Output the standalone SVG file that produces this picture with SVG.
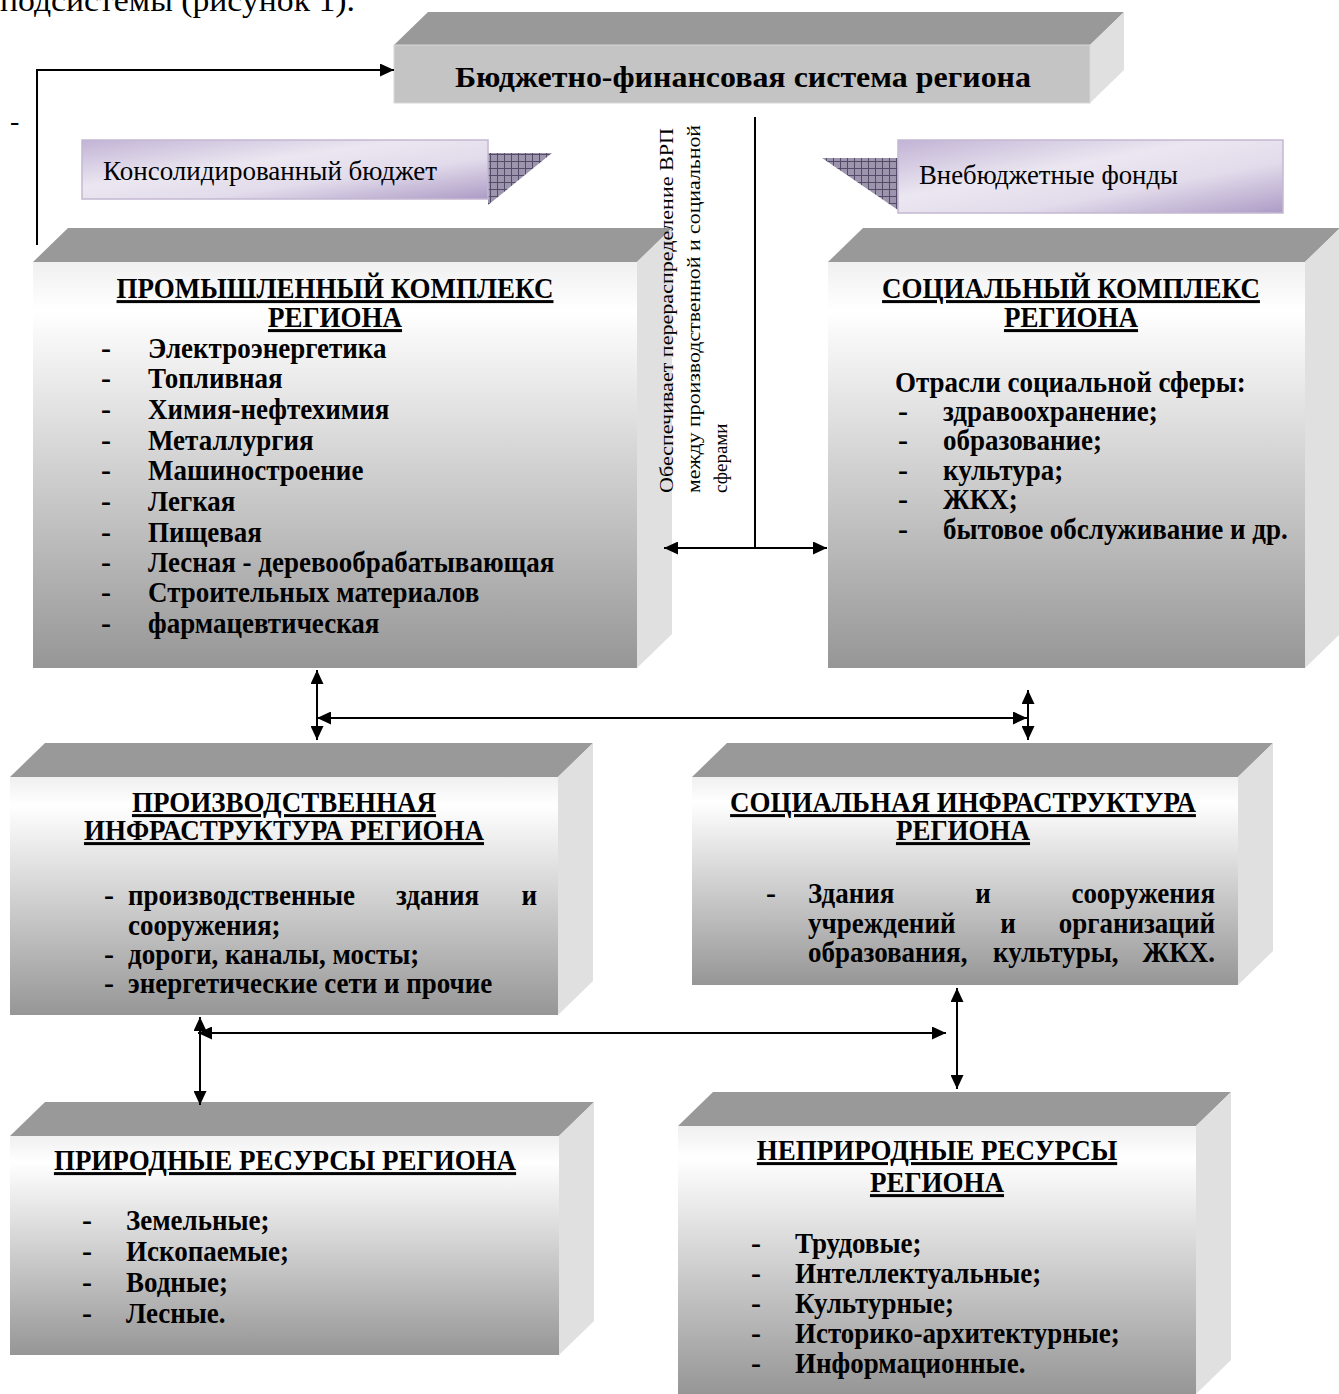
<svg xmlns="http://www.w3.org/2000/svg" width="1339" height="1394" viewBox="0 0 1339 1394">
<defs>
<style>
.b{font-family:'Liberation Serif','Times New Roman',serif;font-weight:bold;font-size:30px;fill:#000}
.t{font-family:'Liberation Serif','Times New Roman',serif;font-weight:bold;font-size:30px;fill:#000;text-anchor:middle;text-decoration:underline}
.r{font-family:'Liberation Serif','Times New Roman',serif;font-weight:normal;fill:#000}
.top{fill:#999999}
.side{fill:#e0e0e0}
.front{fill:url(#gFront)}
.lav{fill:url(#gLav);stroke:#c3b8d2;stroke-width:1.5}
.hatch{fill:url(#pHatch)}
.ln{fill:none;stroke:#000;stroke-width:2}
.ar{marker-start:url(#ah);marker-end:url(#ah)}
</style>
<linearGradient id="gFront" x1="0" y1="0" x2="0" y2="1">
<stop offset="0" stop-color="#f0f0f0"/>
<stop offset="0.12" stop-color="#ffffff"/>
<stop offset="1" stop-color="#969696"/>
</linearGradient>
<linearGradient id="gLav" x1="0" y1="0" x2="1" y2="1">
<stop offset="0" stop-color="#c2b3d5"/>
<stop offset="0.4" stop-color="#ebe7f1"/>
<stop offset="0.65" stop-color="#e2dbeb"/>
<stop offset="1" stop-color="#ac9bc5"/>
</linearGradient>
<pattern id="pHatch" width="7" height="7" patternUnits="userSpaceOnUse">
<rect width="7" height="7" fill="#9d95ad"/>
<path d="M0,0.5 H7 M0.5,0 V7" stroke="#544b68" stroke-width="1"/>
</pattern>
<marker id="ah" viewBox="0 0 14 13" refX="14" refY="6.5" markerWidth="14" markerHeight="13" markerUnits="userSpaceOnUse" orient="auto-start-reverse">
<path d="M0,0 L14,6.5 L0,13 z" fill="#000"/>
</marker>
</defs>
<rect width="1339" height="1394" fill="#ffffff"/>

<text class="r" x="0" y="11" font-size="32" textLength="355" lengthAdjust="spacingAndGlyphs">подсистемы (рисунок 1).</text>
<text class="r" x="10" y="130" font-size="28">-</text>

<g id="budget-system">
<polygon class="top" points="394,45 428,12 1124,12 1090,45"/>
<polygon class="side" points="1090,45 1124,12 1124,70 1090,103"/>
<rect x="394" y="45" width="696" height="58" fill="#c4c4c4" stroke="#d8d8d8" stroke-width="1"/>
<text class="b" x="455" y="87" font-size="33" textLength="576" lengthAdjust="spacingAndGlyphs">Бюджетно-финансовая система региона</text>
</g>

<g id="consolidated">
<polygon class="hatch" points="488,153 552,153 488,205"/>
<rect class="lav" x="82" y="140" width="406" height="59"/>
<text class="r" x="103" y="180" font-size="28" textLength="334" lengthAdjust="spacingAndGlyphs">Консолидированный бюджет</text>
</g>

<g id="offbudget">
<polygon class="hatch" points="822,158 898,158 898,210"/>
<rect class="lav" x="898" y="140" width="385" height="73"/>
<text class="r" x="919" y="184" font-size="28" textLength="259" lengthAdjust="spacingAndGlyphs">Внебюджетные фонды</text>
</g>

<g id="industrial">
<polygon class="top" points="33,262 68,228 672,228 637,262"/>
<polygon class="side" points="637,262 672,228 672,634 637,668"/>
<rect class="front" x="33" y="262" width="604" height="406"/>
<text class="t" transform="translate(335,298) scale(.9,1)">ПРОМЫШЛЕННЫЙ КОМПЛЕКС</text>
<text class="t" transform="translate(335,327) scale(.9,1)">РЕГИОНА</text>
<text class="b" x="101" y="358">-</text><text class="b" transform="translate(148,358) scale(.9,1)">Электроэнергетика</text>
<text class="b" x="101" y="388">-</text><text class="b" transform="translate(148,388) scale(.9,1)">Топливная</text>
<text class="b" x="101" y="419">-</text><text class="b" transform="translate(148,419) scale(.9,1)">Химия-нефтехимия</text>
<text class="b" x="101" y="450">-</text><text class="b" transform="translate(148,450) scale(.9,1)">Металлургия</text>
<text class="b" x="101" y="480">-</text><text class="b" transform="translate(148,480) scale(.9,1)">Машиностроение</text>
<text class="b" x="101" y="511">-</text><text class="b" transform="translate(148,511) scale(.9,1)">Легкая</text>
<text class="b" x="101" y="542">-</text><text class="b" transform="translate(148,542) scale(.9,1)">Пищевая</text>
<text class="b" x="101" y="572">-</text><text class="b" transform="translate(148,572) scale(.9,1)">Лесная - деревообрабатывающая</text>
<text class="b" x="101" y="602">-</text><text class="b" transform="translate(148,602) scale(.9,1)">Строительных материалов</text>
<text class="b" x="101" y="633">-</text><text class="b" transform="translate(148,633) scale(.9,1)">фармацевтическая</text>
</g>

<g id="social">
<polygon class="top" points="828,262 863,228 1340,228 1305,262"/>
<polygon class="side" points="1305,262 1340,228 1340,634 1305,668"/>
<rect class="front" x="828" y="262" width="477" height="406"/>
<text class="t" transform="translate(1071,298) scale(.9,1)">СОЦИАЛЬНЫЙ КОМПЛЕКС</text>
<text class="t" transform="translate(1071,327) scale(.9,1)">РЕГИОНА</text>
<text class="b" transform="translate(895,392) scale(.9,1)">Отрасли социальной сферы:</text>
<text class="b" x="898" y="421">-</text><text class="b" transform="translate(943,421) scale(.9,1)">здравоохранение;</text>
<text class="b" x="898" y="450">-</text><text class="b" transform="translate(943,450) scale(.9,1)">образование;</text>
<text class="b" x="898" y="480">-</text><text class="b" transform="translate(943,480) scale(.9,1)">культура;</text>
<text class="b" x="898" y="509">-</text><text class="b" transform="translate(943,509) scale(.9,1)">ЖКХ;</text>
<text class="b" x="898" y="539">-</text><text class="b" transform="translate(943,539) scale(.9,1)">бытовое обслуживание и др.</text>
</g>

<g id="prod-infra">
<polygon class="top" points="10,777 45,743 593,743 558,777"/>
<polygon class="side" points="558,777 593,743 593,981 558,1015"/>
<rect class="front" x="10" y="777" width="548" height="238"/>
<text class="t" transform="translate(284,812) scale(.9,1)">ПРОИЗВОДСТВЕННАЯ</text>
<text class="t" transform="translate(284,840) scale(.9,1)">ИНФРАСТРУКТУРА РЕГИОНА</text>
<text class="b" x="104" y="905">-</text>
<text class="b" transform="translate(128,905) scale(.9,1)">производственные</text>
<text class="b" transform="translate(396,905) scale(.9,1)">здания</text>
<text class="b" text-anchor="end" transform="translate(537,905) scale(.9,1)">и</text>
<text class="b" transform="translate(128,935) scale(.9,1)">сооружения;</text>
<text class="b" x="104" y="964">-</text><text class="b" transform="translate(128,964) scale(.9,1)">дороги, каналы, мосты;</text>
<text class="b" x="104" y="993">-</text><text class="b" transform="translate(128,993) scale(.9,1)">энергетические сети и прочие</text>
</g>

<g id="soc-infra">
<polygon class="top" points="692,777 727,743 1273,743 1238,777"/>
<polygon class="side" points="1238,777 1273,743 1273,951 1238,985"/>
<rect class="front" x="692" y="777" width="546" height="208"/>
<text class="t" transform="translate(963,812) scale(.9,1)">СОЦИАЛЬНАЯ ИНФРАСТРУКТУРА</text>
<text class="t" transform="translate(963,840) scale(.9,1)">РЕГИОНА</text>
<text class="b" x="766" y="903">-</text>
<text class="b" transform="translate(808,903) scale(.9,1)">Здания</text>
<text class="b" text-anchor="middle" transform="translate(983,903) scale(.9,1)">и</text>
<text class="b" text-anchor="end" transform="translate(1215,903) scale(.9,1)">сооружения</text>
<text class="b" transform="translate(808,933) scale(.9,1)">учреждений</text>
<text class="b" text-anchor="middle" transform="translate(1008,933) scale(.9,1)">и</text>
<text class="b" text-anchor="end" transform="translate(1215,933) scale(.9,1)">организаций</text>
<text class="b" transform="translate(808,962) scale(.9,1)">образования,</text>
<text class="b" transform="translate(993,962) scale(.9,1)">культуры,</text>
<text class="b" text-anchor="end" transform="translate(1215,962) scale(.9,1)">ЖКХ.</text>
</g>

<g id="natural">
<polygon class="top" points="10,1136 45,1102 594,1102 559,1136"/>
<polygon class="side" points="559,1136 594,1102 594,1321 559,1355"/>
<rect class="front" x="10" y="1136" width="549" height="219"/>
<text class="t" transform="translate(285,1170) scale(.9,1)">ПРИРОДНЫЕ РЕСУРСЫ РЕГИОНА</text>
<text class="b" x="82" y="1230">-</text><text class="b" transform="translate(126,1230) scale(.9,1)">Земельные;</text>
<text class="b" x="82" y="1261">-</text><text class="b" transform="translate(126,1261) scale(.9,1)">Ископаемые;</text>
<text class="b" x="82" y="1292">-</text><text class="b" transform="translate(126,1292) scale(.9,1)">Водные;</text>
<text class="b" x="82" y="1323">-</text><text class="b" transform="translate(126,1323) scale(.9,1)">Лесные.</text>
</g>

<g id="nonnatural">
<polygon class="top" points="678,1126 713,1092 1231,1092 1196,1126"/>
<polygon class="side" points="1196,1126 1231,1092 1231,1360 1196,1394"/>
<rect class="front" x="678" y="1126" width="518" height="268"/>
<text class="t" transform="translate(937,1160) scale(.9,1)">НЕПРИРОДНЫЕ РЕСУРСЫ</text>
<text class="t" transform="translate(937,1192) scale(.9,1)">РЕГИОНА</text>
<text class="b" x="751" y="1253">-</text><text class="b" transform="translate(795,1253) scale(.9,1)">Трудовые;</text>
<text class="b" x="751" y="1283">-</text><text class="b" transform="translate(795,1283) scale(.9,1)">Интеллектуальные;</text>
<text class="b" x="751" y="1313">-</text><text class="b" transform="translate(795,1313) scale(.9,1)">Культурные;</text>
<text class="b" x="751" y="1343">-</text><text class="b" transform="translate(795,1343) scale(.9,1)">Историко-архитектурные;</text>
<text class="b" x="751" y="1373">-</text><text class="b" transform="translate(795,1373) scale(.9,1)">Информационные.</text>
</g>

<g id="note">
<text class="r" font-size="19" transform="translate(673,493) rotate(-90)" textLength="365" lengthAdjust="spacingAndGlyphs">Обеспечивает перераспределение ВРП</text>
<text class="r" font-size="19" transform="translate(700,493) rotate(-90)" textLength="368" lengthAdjust="spacingAndGlyphs">между производственной и социальной</text>
<text class="r" font-size="19" transform="translate(727,493) rotate(-90)">сферами</text>
</g>

<g id="connectors">
<path class="ln" d="M37,245 V70 H394" marker-end="url(#ah)"/>
<line class="ln" x1="755" y1="117" x2="755" y2="548"/>
<line class="ln ar" x1="664" y1="548" x2="827" y2="548"/>
<line class="ln ar" x1="317" y1="670" x2="317" y2="740"/>
<line class="ln ar" x1="317" y1="718" x2="1027" y2="718"/>
<line class="ln ar" x1="1028" y1="690" x2="1028" y2="740"/>
<line class="ln ar" x1="200" y1="1017" x2="200" y2="1105"/>
<line class="ln ar" x1="198" y1="1033" x2="946" y2="1033"/>
<line class="ln ar" x1="957" y1="988" x2="957" y2="1089"/>
</g>
</svg>
